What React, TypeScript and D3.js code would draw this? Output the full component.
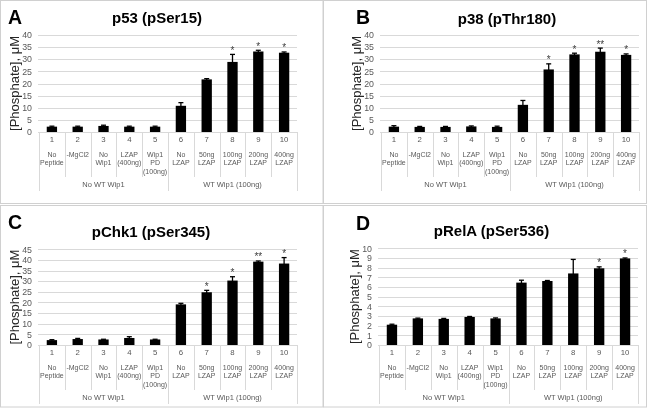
import React from "react";
import * as d3 from "d3";

// ---------- data ----------
const categories = ["1", "2", "3", "4", "5", "6", "7", "8", "9", "10"];
const categoryLines: string[][] = [
  ["No", "Peptide"],
  ["-MgCl2"],
  ["No", "Wip1"],
  ["LZAP", "(400ng)"],
  ["Wip1", "PD", "(100ng)"],
  ["No", "LZAP"],
  ["50ng", "LZAP"],
  ["100ng", "LZAP"],
  ["200ng", "LZAP"],
  ["400ng", "LZAP"],
];
const groupLabels = ["No WT Wip1", "WT Wip1 (100ng)"];
const groupSizes = [5, 5];

const panelLetters = ["A", "B", "C", "D"];
const panelTitles = ["p53 (pSer15)", "p38 (pThr180)", "pChk1 (pSer345)", "pRelA (pSer536)"];
const yAxisTitle = "[Phosphate], μM";
const yMaxes = [40, 40, 45, 10];
const yTickSteps = [5, 5, 5, 1];

const p53Values = [2.2, 2.2, 2.5, 2.2, 2.2, 10.8, 21.7, 28.9, 33.2, 32.7];
const p53Errors = [0.2, 0.2, 0.3, 0.2, 0.2, 1.3, 0.3, 3.1, 0.5, 0.3];
const p53Stars = ["", "", "", "", "", "", "", "*", "*", "*"];

const p38Values = [2.2, 2.1, 2.1, 2.3, 2.1, 11.2, 25.8, 32.0, 33.1, 31.8];
const p38Errors = [0.4, 0.2, 0.2, 0.2, 0.3, 1.8, 2.3, 0.5, 1.5, 0.4];
const p38Stars = ["", "", "", "", "", "", "*", "*", "**", "*"];

const chk1Values = [2.3, 2.8, 2.6, 3.3, 2.6, 19.1, 24.8, 30.3, 39.2, 38.3];
const chk1Errors = [0.2, 0.3, 0.1, 0.6, 0.1, 0.5, 0.9, 1.8, 0.3, 2.8];
const chk1Stars = ["", "", "", "", "", "", "*", "*", "**", "*"];

const relaValues = [2.1, 2.75, 2.7, 2.9, 2.75, 6.45, 6.62, 7.4, 7.93, 8.95];
const relaErrors = [0.05, 0.03, 0.05, 0.05, 0.05, 0.25, 0.05, 1.45, 0.15, 0.05];
const relaStars = ["", "", "", "", "", "", "", "", "*", "*"];

const allValues = [p53Values, p38Values, chk1Values, relaValues];
const allErrors = [p53Errors, p38Errors, chk1Errors, relaErrors];
const allStars = [p53Stars, p38Stars, chk1Stars, relaStars];

// ---------- layout ----------
const W = 648;
const H = 409;
const FONT = "'Liberation Sans', Arial, Helvetica, sans-serif";
const layouts = [
  { x0: 39, x1: 297, yTop: 35, yBottom: 132, letterX: 8, letterY: 24, titleX: 157, titleY: 22.5 },
  { x0: 381, x1: 639, yTop: 35, yBottom: 132, letterX: 356, letterY: 24, titleX: 507, titleY: 23.5 },
  { x0: 39, x1: 297, yTop: 249.3, yBottom: 345, letterX: 8, letterY: 229, titleX: 151, titleY: 237 },
  { x0: 379, x1: 638, yTop: 248.3, yBottom: 345, letterX: 356, letterY: 230, titleX: 491.5, titleY: 235.5 },
];

const GRID = "#d9d9d9";
const LABEL = "#595959";

function Panel({ idx }: { idx: number }) {
  const L = layouts[idx];
  const values = allValues[idx];
  const errors = allErrors[idx];
  const stars = allStars[idx];
  const yMax = yMaxes[idx];
  const step = yTickSteps[idx];

  const x = d3.scaleBand<string>().domain(categories).range([L.x0, L.x1]).padding(0);
  const y = d3.scaleLinear().domain([0, yMax]).range([L.yBottom, L.yTop]);
  const ticks = d3.range(0, yMax + step / 2, step);
  const bw = x.bandwidth() * 0.4;
  const capW = 5;

  const groupEdges: number[] = [L.x0];
  let acc = 0;
  groupSizes.forEach((s) => {
    acc += s;
    groupEdges.push(acc >= categories.length ? L.x1 : (x(categories[acc]) as number));
  });

  const yb = L.yBottom;
  return (
    <g>
      {ticks.map((t) => (
        <line key={"g" + t} x1={L.x0 - 1} x2={L.x1} y1={Math.round(y(t)) + 0.5} y2={Math.round(y(t)) + 0.5} stroke={GRID} strokeWidth={1} />
      ))}
      {ticks.map((t) => (
        <text key={"t" + t} x={L.x0 - 7} y={y(t) + 3.2} textAnchor="end" fontSize={8.8} fill={LABEL} fontFamily={FONT}>
          {t}
        </text>
      ))}
      <text
        transform={`translate(${L.x0 - 25},${(L.yTop + L.yBottom) / 2}) rotate(-90)`}
        textAnchor="middle"
        dy="0.35em"
        fontSize={13}
        fill="#262626"
        fontFamily={FONT}
      >
        {yAxisTitle}
      </text>
      {categories.map((c, i) => {
        const cx = (x(c) as number) + x.bandwidth() / 2;
        return (
          <rect key={"b" + c} x={cx - bw / 2} y={y(values[i])} width={bw} height={yb - y(values[i])} fill="#000" />
        );
      })}
      {categories.map((c, i) => {
        const cx = (x(c) as number) + x.bandwidth() / 2;
        const top = y(values[i] + errors[i]);
        const bot = y(values[i] - errors[i]);
        return (
          <g key={"e" + c} stroke="#000" strokeWidth={1.3}>
            <line x1={cx} x2={cx} y1={top} y2={bot} />
            <line x1={cx - capW / 2} x2={cx + capW / 2} y1={top} y2={top} />
          </g>
        );
      })}
      {categories.map((c, i) =>
        stars[i] ? (
          <text key={"s" + c} x={(x(c) as number) + x.bandwidth() / 2} y={y(values[i] + errors[i]) - 0.5} textAnchor="middle" fontSize={10} fill="#404040" fontFamily={FONT}>
            {stars[i]}
          </text>
        ) : null
      )}
      <line x1={L.x0} x2={L.x1} y1={yb + 0.5} y2={yb + 0.5} stroke={GRID} strokeWidth={1} />
      {categories.map((c) => {
        const xe = Math.round(x(c) as number) + 0.5;
        return <line key={"sep" + c} x1={xe} x2={xe} y1={yb} y2={yb + 45} stroke={GRID} strokeWidth={1} />;
      })}
      {groupEdges.map((ge, i) => (
        <line key={"ge" + i} x1={Math.round(ge) + 0.5} x2={Math.round(ge) + 0.5} y1={yb} y2={yb + 59} stroke={GRID} strokeWidth={1} />
      ))}
      {categories.map((c, i) => {
        const cx = (x(c) as number) + x.bandwidth() / 2;
        return (
          <g key={"cl" + c} fontFamily={FONT} fill={LABEL} textAnchor="middle">
            <text x={cx} y={yb + 10} fontSize={7.8}>
              {c}
            </text>
            {categoryLines[i].map((ln, j) => (
              <text key={j} x={cx} y={yb + 24.5 + j * 8.5} fontSize={7}>
                {ln}
              </text>
            ))}
          </g>
        );
      })}
      {groupLabels.map((g, gi) => (
        <text key={"gl" + gi} x={(groupEdges[gi] + groupEdges[gi + 1]) / 2} y={yb + 54.5} textAnchor="middle" fontSize={7.5} fill={LABEL} fontFamily={FONT}>
          {g}
        </text>
      ))}
      <text x={L.letterX} y={L.letterY} fontSize={19.5} fontWeight="bold" fill="#000" fontFamily={FONT}>
        {panelLetters[idx]}
      </text>
      <text x={L.titleX} y={L.titleY} textAnchor="middle" fontSize={15} fontWeight="bold" fill="#000" fontFamily={FONT}>
        {panelTitles[idx]}
      </text>
    </g>
  );
}

export default function App() {
  return (
    <svg width={W} height={H} viewBox={`0 0 ${W} ${H}`} style={{ position: "absolute", left: 0, top: 0, willChange: "transform" }}>
      <rect x={0} y={0} width={W} height={H} fill="#fff" />
      <g fill="none" stroke="#d0d0d0" strokeWidth={1}>
        <rect x={0.5} y={0.5} width={322.5} height={203} />
        <rect x={323.5} y={0.5} width={323} height={203} />
        <rect x={0.5} y={205.5} width={322.5} height={201.5} />
        <rect x={323.5} y={205.5} width={323} height={201.5} />
      </g>
      {[0, 1, 2, 3].map((i) => (
        <Panel key={i} idx={i} />
      ))}
    </svg>
  );
}
